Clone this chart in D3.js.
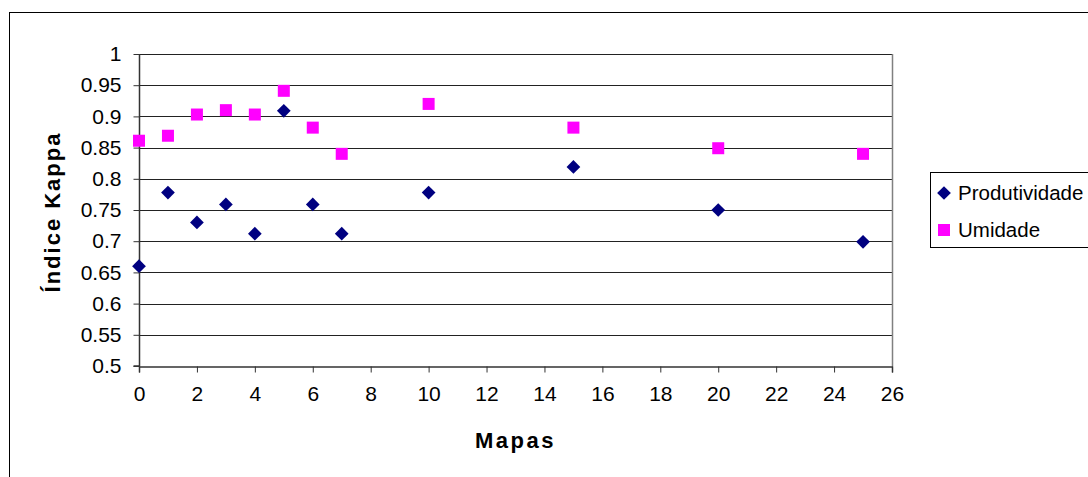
<!DOCTYPE html>
<html>
<head>
<meta charset="utf-8">
<script src="https://cdn.jsdelivr.net/npm/d3@7"></script>
<style>
  html, body { margin: 0; padding: 0; background: #fff; }
  svg { display: block; font-family: "Liberation Sans", Arial, sans-serif; }
</style>
</head>
<body>
<svg id="chart" width="1088" height="477"></svg>
<script>
// Map index (x) for each observation
const mapas = [0, 1, 2, 3, 4, 5, 6, 7, 10, 15, 20, 25];
// Kappa index per series
const produtividade = [0.66, 0.778, 0.73, 0.759, 0.712, 0.909, 0.759, 0.712, 0.778, 0.819, 0.75, 0.699];
const umidade = [0.861, 0.869, 0.903, 0.91, 0.903, 0.941, 0.882, 0.84, 0.92, 0.882, 0.849, 0.84];
const seriesNames = ["Produtividade", "Umidade"];
const xTicks = d3.range(0, 27, 2);
const yTicks = [0.5, 0.55, 0.6, 0.65, 0.7, 0.75, 0.8, 0.85, 0.9, 0.95, 1];

const svg = d3.select("#chart");
const plot = { left: 139, right: 892, top: 54, bottom: 366 };

const x = d3.scaleLinear().domain([0, 26]).range([plot.left, plot.right]);
const y = d3.scaleLinear().domain([0.5, 1]).range([plot.bottom, plot.top]);

// outer chart frame
svg.append("rect")
  .attr("x", 9.5).attr("y", 12.5)
  .attr("width", 1100).attr("height", 500)
  .attr("fill", "#fff").attr("stroke", "#000").attr("stroke-width", 1);

// horizontal gridlines
svg.append("g")
  .selectAll("line")
  .data(yTicks.slice(1))
  .join("line")
  .attr("x1", plot.left).attr("x2", plot.right)
  .attr("y1", d => Math.round(y(d)) + 0.5).attr("y2", d => Math.round(y(d)) + 0.5)
  .attr("stroke", "#222").attr("stroke-width", 1);

// right edge of plot area
svg.append("line")
  .attr("x1", plot.right + 0.5).attr("x2", plot.right + 0.5)
  .attr("y1", plot.top).attr("y2", plot.bottom)
  .attr("stroke", "#808080").attr("stroke-width", 1.5);

// y axis
const yAxis = svg.append("g")
  .attr("transform", `translate(${plot.left + 0.5},0)`)
  .call(d3.axisLeft(y).tickValues(yTicks).tickFormat(d => d3.format("")(+d.toFixed(2))).tickSize(6).tickPadding(12));
// x axis
const xAxis = svg.append("g")
  .attr("transform", `translate(0,${plot.bottom + 0.5})`)
  .call(d3.axisBottom(x).tickValues(xTicks).tickSize(6).tickPadding(14));

[yAxis, xAxis].forEach(g => {
  g.selectAll(".domain").attr("stroke", "#333").attr("stroke-width", 1.5);
  g.selectAll(".tick line").attr("stroke", "#333");
  g.selectAll("text").attr("font-family", "Liberation Sans, Arial, sans-serif")
    .attr("font-size", 21).attr("fill", "#000");
});
yAxis.select(".domain").attr("d", `M-6,${plot.bottom}H0V${plot.top}`);

// axis titles
svg.append("text")
  .attr("x", (plot.left + plot.right) / 2).attr("y", 448)
  .attr("text-anchor", "middle")
  .attr("font-size", 22).attr("font-weight", "bold")
  .attr("letter-spacing", 2.5)
  .text("Mapas");

svg.append("text")
  .attr("transform", `translate(60,${(plot.top + plot.bottom) / 2 + 2}) rotate(-90)`)
  .attr("text-anchor", "middle")
  .attr("font-size", 22).attr("font-weight", "bold")
  .attr("letter-spacing", 2)
  .text("Índice Kappa");

const diamond = d3.symbol().type(d3.symbolDiamond2).size(120);
const colors = ["#000080", "#FF00FF"];

// Produtividade points (diamonds)
svg.append("g")
  .selectAll("path")
  .data(mapas.map((m, i) => [m, produtividade[i]]))
  .join("path")
  .attr("d", diamond)
  .attr("transform", d => `translate(${x(d[0])},${y(d[1])})`)
  .attr("fill", colors[0]);

// Umidade points (squares)
const sq = 12;
svg.append("g")
  .selectAll("rect")
  .data(mapas.map((m, i) => [m, umidade[i]]))
  .join("rect")
  .attr("x", d => x(d[0]) - sq / 2).attr("y", d => y(d[1]) - sq / 2)
  .attr("width", sq).attr("height", sq)
  .attr("fill", colors[1]);

// legend
const legend = svg.append("g");
legend.append("rect")
  .attr("x", 930.5).attr("y", 172.5).attr("width", 170).attr("height", 75)
  .attr("fill", "#fff").attr("stroke", "#000");
legend.append("path")
  .attr("d", diamond)
  .attr("transform", "translate(944,193)")
  .attr("fill", colors[0]);
legend.append("rect")
  .attr("x", 938).attr("y", 224).attr("width", sq).attr("height", sq)
  .attr("fill", colors[1]);
legend.selectAll("text.lbl")
  .data(seriesNames)
  .join("text")
  .attr("class", "lbl")
  .attr("x", 958).attr("y", (d, i) => 200 + i * 37)
  .attr("font-size", 20.5)
  .text(d => d);
</script>
</body>
</html>
